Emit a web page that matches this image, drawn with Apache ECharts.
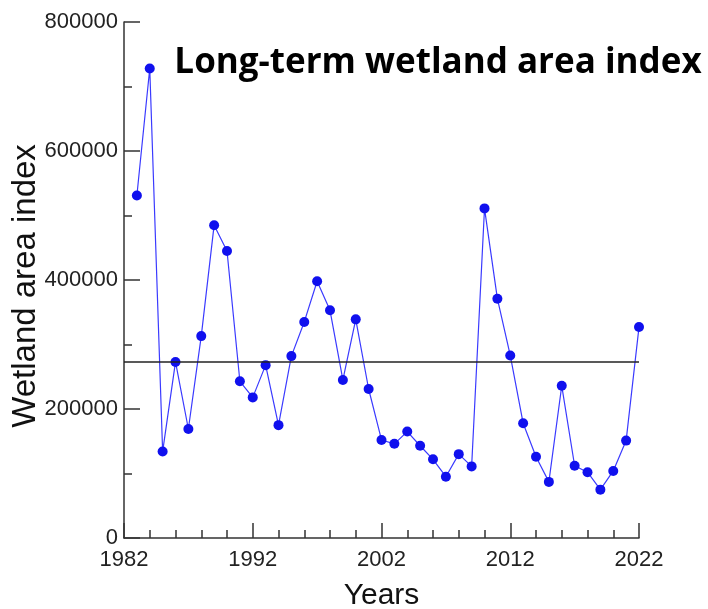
<!DOCTYPE html>
<html>
<head>
<meta charset="utf-8">
<script src="https://cdn.jsdelivr.net/npm/echarts@6/dist/echarts.min.js"></script>
<style>
  html, body { margin: 0; padding: 0; background: #fff; }
  #chart { width: 708px; height: 609px; }
</style>
</head>
<body>
<div id="chart"></div>
<script>
// Annual wetland area index, 1983–2022
const years = [1983, 1984, 1985, 1986, 1987, 1988, 1989, 1990, 1991, 1992,
               1993, 1994, 1995, 1996, 1997, 1998, 1999, 2000, 2001, 2002,
               2003, 2004, 2005, 2006, 2007, 2008, 2009, 2010, 2011, 2012,
               2013, 2014, 2015, 2016, 2017, 2018, 2019, 2020, 2021, 2022];
const wetlandIndex = [531000, 728000, 134000, 273000, 169000, 313000, 485000, 445000, 243000, 218000,
                      268000, 175000, 282000, 335000, 398000, 353000, 245000, 339000, 231000, 152000,
                      146000, 165000, 143000, 122000, 95000, 130000, 111000, 511000, 371000, 283000,
                      178000, 126000, 87000, 236000, 112000, 102000, 75000, 104000, 151000, 327000];
// Long-term reference level drawn as a horizontal line
const longTermLevel = [273000];
const xTicks = [1982, 1992, 2002, 2012, 2022];
const yTicks = [0, 200000, 400000, 600000, 800000];

const axisFont = 'Liberation Sans, Arial, sans-serif';
const chart = echarts.init(document.getElementById('chart'), null, { renderer: 'canvas' });

chart.setOption({
  backgroundColor: '#fff',
  animation: false,
  title: {
    text: 'Long-term wetland area index',
    left: 433,
    top: 41,
    textAlign: 'center',
    textStyle: { fontFamily: '"Open Sans", Lato, sans-serif', fontWeight: 'bold', fontSize: 35, color: '#000' }
  },
  grid: { left: 124, right: 69, top: 22, bottom: 71, containLabel: false, outerBoundsMode: 'none' },
  xAxis: {
    type: 'value',
    min: xTicks[0],
    max: xTicks[xTicks.length - 1],
    interval: 10,
    name: 'Years',
    nameLocation: 'middle',
    nameGap: 43,
    nameMoveOverlap: false,
    nameTextStyle: { fontFamily: axisFont, fontSize: 30, color: '#111' },
    axisLine: { lineStyle: { color: '#333', width: 1.5 } },
    axisTick: { inside: true, length: 15, lineStyle: { color: '#333', width: 1.5 } },
    minorTick: { show: true, splitNumber: 5, length: 8, lineStyle: { color: '#333', width: 1.5 } },
    splitLine: { show: false },
    axisLabel: {
      margin: 11,
      fontFamily: axisFont, fontSize: 22, color: '#222',
      formatter: v => String(v)
    }
  },
  yAxis: {
    type: 'value',
    min: yTicks[0],
    max: yTicks[yTicks.length - 1],
    interval: 200000,
    name: 'Wetland area index',
    nameLocation: 'middle',
    nameGap: 82,
    nameMoveOverlap: false,
    nameRotate: 90,
    nameTextStyle: { fontFamily: axisFont, fontSize: 33, color: '#111', padding: [0, 12, 0, 0] },
    axisLine: { show: true, lineStyle: { color: '#333', width: 1.5 } },
    axisTick: { show: true, inside: true, length: 16, lineStyle: { color: '#333', width: 1.5 } },
    minorTick: { show: true, splitNumber: 2, length: 8, lineStyle: { color: '#333', width: 1.5 } },
    splitLine: { show: false },
    axisLabel: {
      margin: 6,
      fontFamily: axisFont, fontSize: 22, color: '#222',
      formatter: v => String(v)
    }
  },
  series: [{
    type: 'line',
    data: years.map((y, i) => [y, wetlandIndex[i]]),
    symbol: 'circle',
    symbolSize: 10,
    itemStyle: { color: '#1010ee' },
    lineStyle: { color: '#3a3aff', width: 1.2 },
    markLine: {
      silent: true,
      symbol: 'none',
      label: { show: false },
      lineStyle: { color: '#222', width: 1.5, type: 'solid' },
      data: [{ yAxis: longTermLevel[0] }]
    }
  }]
});
</script>
</body>
</html>
